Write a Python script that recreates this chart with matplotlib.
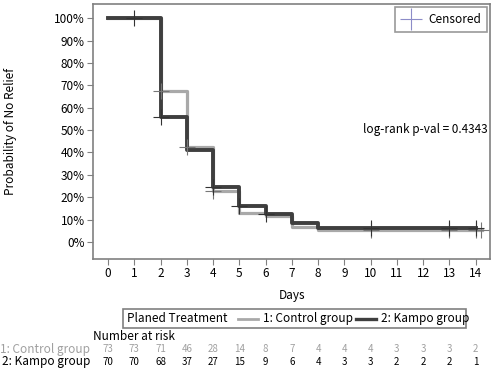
import numpy as np
import matplotlib.pyplot as plt
import matplotlib.transforms as mtrans
from matplotlib.lines import Line2D
from matplotlib.patches import Rectangle

plt.rcParams['font.family'] = ['Noto Sans CJK JP', 'DejaVu Sans']

# step curves (time of change, survival in %)
t_ctrl = [0, 2, 3, 4, 5, 6, 7, 8, 14.25]
s_ctrl = [100, 67.6, 42.6, 23.0, 13.0, 11.5, 6.6, 5.6, 5.6]
t_kampo = [0, 2, 3, 4, 5, 6, 7, 8, 14]
s_kampo = [100, 55.7, 41.0, 24.5, 16.0, 12.5, 8.5, 6.2, 6.2]

# censor marks
cens_ctrl_t = [2, 3, 4, 10, 13, 14, 14.2]
cens_ctrl_s = [67.6, 42.6, 23.0, 5.6, 5.6, 5.6, 5.6]
cens_kampo_t = [1, 2, 4, 5, 6, 10, 13, 14]
cens_kampo_s = [100, 55.7, 24.5, 16.0, 12.5, 6.2, 6.2, 6.2]

days = list(range(15))
risk_ctrl = [73, 73, 71, 46, 28, 14, 8, 7, 4, 4, 4, 3, 3, 3, 2]
risk_kampo = [70, 70, 68, 37, 27, 15, 9, 6, 4, 3, 3, 2, 2, 2, 1]

c_ctrl = '#a9a9a9'
c_kampo = '#3f3f3f'
frame = '#808080'

fig = plt.figure(figsize=(4.98, 3.68), dpi=100)
ax = fig.add_axes([0.187, 0.296, 0.797, 0.693])

ax.step(t_ctrl, s_ctrl, where='post', color=c_ctrl, lw=2.3, zorder=2)
ax.step(t_kampo, s_kampo, where='post', color=c_kampo, lw=2.8, zorder=3)
ax.plot(cens_ctrl_t, cens_ctrl_s, ls='none', marker='+', ms=12, mew=0.8,
        color='#777777', zorder=4)
ax.plot(cens_kampo_t, cens_kampo_s, ls='none', marker='+', ms=12, mew=0.8,
        color='#333333', zorder=4)

ax.set_xlim(-0.57, 14.55)
ax.set_ylim(-7.6, 106.3)
ax.set_xticks(days)
ax.set_yticks(np.arange(0, 101, 10))
ax.set_yticklabels([f'{v}%' for v in range(0, 101, 10)])
ax.tick_params(labelsize=8.5, length=4, color=frame, pad=2)
for sp in ax.spines.values():
    sp.set_color(frame)
    sp.set_linewidth(1.2)
ax.set_xlabel('Days', fontsize=8.5, labelpad=6)
ax.set_ylabel('Probability of No Relief', fontsize=8.5)
ax.yaxis.set_label_coords(-0.193, 0.5)

ax.text(0.995, 0.51, 'log-rank p-val = 0.4343', transform=ax.transAxes,
        ha='right', va='center', fontsize=8.5)

cens_handle = Line2D([], [], ls='none', marker='+', ms=16, mew=0.8, color='#8c8cc8')
leg = ax.legend([cens_handle], ['Censored'], loc='upper right', fontsize=8.5,
                frameon=True, fancybox=False, borderpad=0.5, handletextpad=0.7,
                handlelength=1.6, borderaxespad=0.25)
leg.get_frame().set_edgecolor(frame)
leg.get_frame().set_linewidth(1.2)

# bottom legend, in figure pixels
W, H = 498, 368
fig.patches.append(Rectangle((123 / W, 1 - 328 / H), 343 / W, 19 / H,
                             transform=fig.transFigure, fill=False,
                             edgecolor=frame, lw=1.2))
ly = 1 - 318.5 / H
fig.text(127 / W, ly, 'Planed Treatment', fontsize=8.5, va='center')
fig.lines.append(Line2D([238 / W, 258 / W], [ly, ly], transform=fig.transFigure,
                        color=c_ctrl, lw=2.0))
fig.text(263 / W, ly, '1: Control group', fontsize=8.5, va='center')
fig.lines.append(Line2D([356 / W, 376 / W], [ly, ly], transform=fig.transFigure,
                        color=c_kampo, lw=2.4))
fig.text(381 / W, ly, '2: Kampo group', fontsize=8.5, va='center')

# number at risk
fig.text(93 / W, 1 - 336 / H, 'Number at risk', fontsize=8.5, va='center')
y1 = 1 - 349 / H
y2 = 1 - 362 / H
fig.text(0, y1, '1: Control group', fontsize=8.5, va='center', color='#a0a0a0')
fig.text(2 / W, y2, '2: Kampo group', fontsize=8.5, va='center', color='black')
bt = mtrans.blended_transform_factory(ax.transData, fig.transFigure)
for d, a, b in zip(days, risk_ctrl, risk_kampo):
    ax.text(d, y1, str(a), transform=bt, ha='center', va='center',
            fontsize=7, color='#a0a0a0', clip_on=False)
    ax.text(d, y2, str(b), transform=bt, ha='center', va='center',
            fontsize=7, color='black', clip_on=False)

fig.savefig('out.png', dpi=100)
